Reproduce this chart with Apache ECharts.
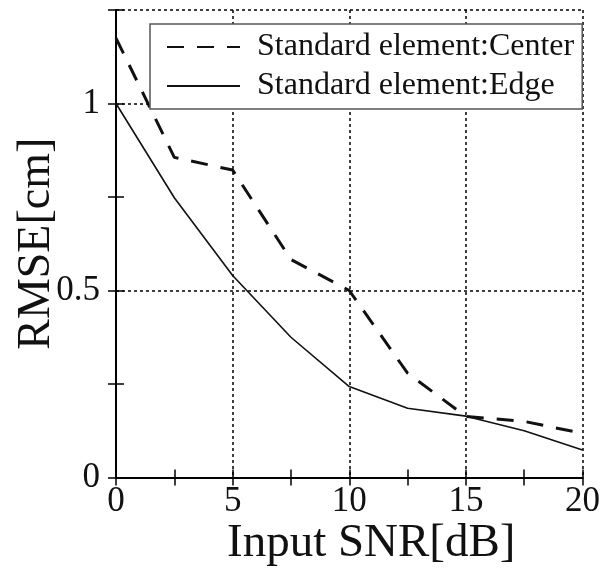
<!DOCTYPE html>
<html>
<head>
<meta charset="utf-8">
<script src="https://cdn.jsdelivr.net/npm/echarts@6/dist/echarts.min.js"></script>
<style>
html,body{margin:0;padding:0;background:#fff;}
#chart{width:615px;height:570px;}
</style>
</head>
<body>
<div id="chart"></div>
<script>
// Data
var snr = [0, 2.5, 5, 7.5, 10, 12.5, 15, 17.5, 20];
var centerRmse = [1.175, 0.856, 0.822, 0.583, 0.50, 0.279, 0.163, 0.150, 0.118];
var edgeRmse = [1.0, 0.748, 0.54, 0.375, 0.243, 0.185, 0.164, 0.125, 0.0735];
var seriesNames = ['Standard element:Center', 'Standard element:Edge'];
var xTickLabels = ['0', '5', '10', '15', '20'];
var yTickLabels = ['0', '0.5', '1'];
var xName = 'Input SNR[dB]';
var yName = 'RMSE[cm]';

function pairs(xs, ys) { return xs.map(function (x, i) { return [x, ys[i]]; }); }

var font = 'Liberation Serif';
var frameLine = { show: true, lineStyle: { color: '#000', width: 2 } };
var tick = { show: true, inside: true, length: 8, lineStyle: { color: '#000', width: 1.5 } };
var grid = { type: [3, 3], color: '#000', width: 1.5 };

var option = {
  animation: false,
  backgroundColor: '#fff',
  grid: { left: 116, right: 32.5, top: 10, bottom: 92.5, containLabel: false, outerBoundsMode: 'none' },
  legend: {
    orient: 'vertical',
    left: 150, top: 24,
    padding: [7, 8, 7, 16],
    itemGap: 7,
    itemWidth: 73, itemHeight: 20,
    backgroundColor: '#fff',
    borderColor: '#555', borderWidth: 1.5,
    itemStyle: { opacity: 0 },
    textStyle: { fontFamily: font, fontSize: 32, color: '#111', lineHeight: 31, padding: [0, 0, 0, 12] },
    data: seriesNames
  },
  xAxis: [
    {
      type: 'value', min: 0, max: 20, interval: 2.5, position: 'bottom',
      name: xName, nameLocation: 'middle', nameGap: 43, nameMoveOverlap: false,
      nameTextStyle: { fontFamily: font, fontSize: 47, color: '#111', padding: [0, 0, 0, 44] },
      axisLine: frameLine, axisTick: tick,
      axisLabel: {
        fontFamily: font, fontSize: 35, color: '#111', margin: 7,
        formatter: function (v) { var s = String(v); return xTickLabels.indexOf(s) >= 0 ? s : ''; }
      },
      splitLine: { show: false }
    },
    {
      type: 'value', min: 0, max: 20, interval: 2.5, position: 'top',
      axisLine: frameLine, axisTick: tick, axisLabel: { show: false }, splitLine: { show: false }
    },
    {
      type: 'value', min: 0, max: 20, interval: 5, position: 'bottom',
      axisLine: { show: false }, axisTick: { show: false }, axisLabel: { show: false },
      splitLine: { show: true, lineStyle: grid }
    }
  ],
  yAxis: [
    {
      type: 'value', min: 0, max: 1.25, interval: 0.25, position: 'left',
      name: yName, nameLocation: 'middle', nameGap: 56, nameMoveOverlap: false,
      nameTextStyle: { fontFamily: font, fontSize: 46, color: '#111' },
      axisLine: frameLine, axisTick: tick,
      axisLabel: {
        fontFamily: font, fontSize: 35, color: '#111', margin: 16,
        formatter: function (v) { var s = String(v); return yTickLabels.indexOf(s) >= 0 ? s : ''; }
      },
      splitLine: { show: false }
    },
    {
      type: 'value', min: 0, max: 1.25, interval: 0.25, position: 'right',
      axisLine: frameLine, axisTick: tick, axisLabel: { show: false }, splitLine: { show: false }
    },
    {
      type: 'value', min: 0, max: 1.25, interval: 0.5, position: 'left',
      axisLine: { show: false }, axisTick: { show: false }, axisLabel: { show: false },
      splitLine: { show: true, lineStyle: grid }
    }
  ],
  series: [
    {
      name: seriesNames[0], type: 'line', xAxisIndex: 0, yAxisIndex: 0,
      data: pairs(snr, centerRmse), symbol: 'none', z: 3,
      lineStyle: { color: '#111', width: 3, type: [17, 13] },
      itemStyle: { color: '#111' }
    },
    {
      name: seriesNames[1], type: 'line', xAxisIndex: 0, yAxisIndex: 0,
      data: pairs(snr, edgeRmse), symbol: 'none', z: 3,
      lineStyle: { color: '#111', width: 1.6, type: 'solid' },
      itemStyle: { color: '#111' }
    }
  ]
};

var chart = echarts.init(document.getElementById('chart'), null, { renderer: 'canvas' });
chart.setOption(option);
</script>
</body>
</html>
